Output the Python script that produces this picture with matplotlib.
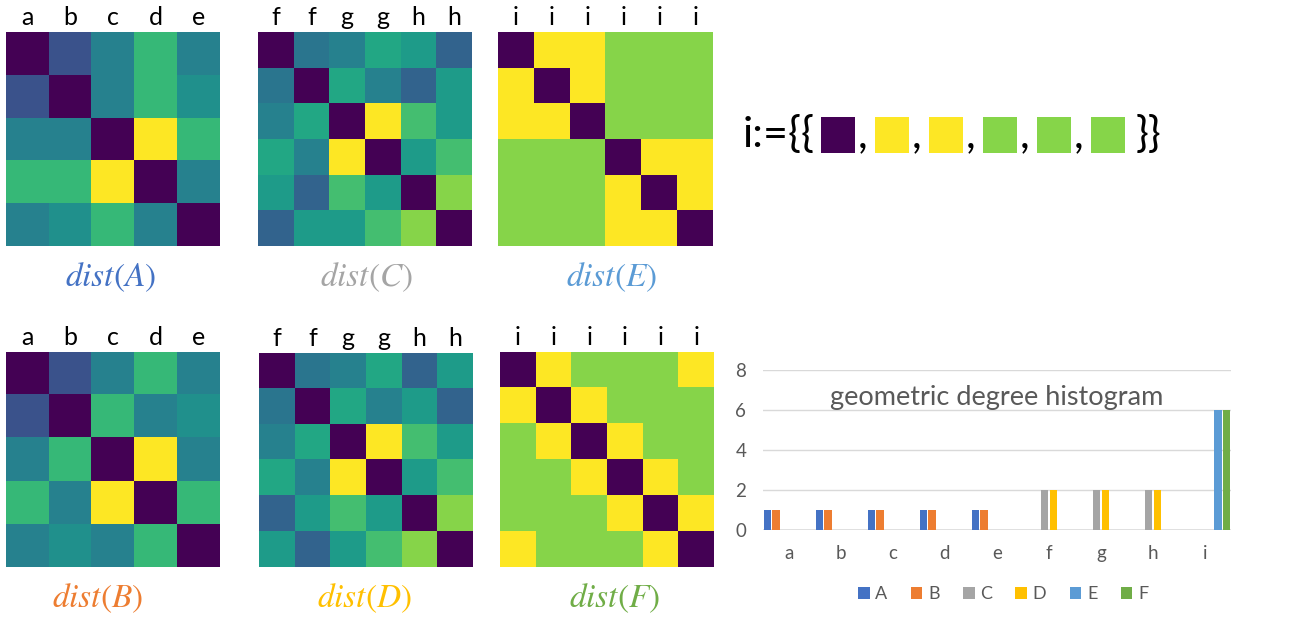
import numpy as np
import matplotlib
matplotlib.use("Agg")
import matplotlib.pyplot as plt
from matplotlib.patches import Rectangle, Patch

plt.rcParams['font.family'] = ['Lato', 'DejaVu Sans']
plt.rcParams['mathtext.fontset'] = 'stix'

# ---------------- data ----------------
labels_AB = ['a', 'b', 'c', 'd', 'e']
labels_CD = ['f', 'f', 'g', 'g', 'h', 'h']
labels_EF = ['i', 'i', 'i', 'i', 'i', 'i']

dist_A = np.array([
    [0.00, 0.25, 0.44, 0.67, 0.44],
    [0.25, 0.00, 0.44, 0.67, 0.50],
    [0.44, 0.44, 0.00, 1.00, 0.67],
    [0.67, 0.67, 1.00, 0.00, 0.44],
    [0.44, 0.50, 0.67, 0.44, 0.00],
])
dist_B = np.array([
    [0.00, 0.25, 0.44, 0.67, 0.44],
    [0.25, 0.00, 0.67, 0.44, 0.50],
    [0.44, 0.67, 0.00, 1.00, 0.44],
    [0.67, 0.44, 1.00, 0.00, 0.67],
    [0.44, 0.50, 0.44, 0.67, 0.00],
])
dist_C = np.array([
    [0.00, 0.39, 0.44, 0.60, 0.55, 0.32],
    [0.39, 0.00, 0.60, 0.44, 0.32, 0.55],
    [0.44, 0.60, 0.00, 1.00, 0.70, 0.55],
    [0.60, 0.44, 1.00, 0.00, 0.55, 0.70],
    [0.55, 0.32, 0.70, 0.55, 0.00, 0.82],
    [0.32, 0.55, 0.55, 0.70, 0.82, 0.00],
])
dist_D = np.array([
    [0.00, 0.39, 0.44, 0.60, 0.32, 0.55],
    [0.39, 0.00, 0.60, 0.44, 0.55, 0.32],
    [0.44, 0.60, 0.00, 1.00, 0.70, 0.55],
    [0.60, 0.44, 1.00, 0.00, 0.55, 0.70],
    [0.32, 0.55, 0.70, 0.55, 0.00, 0.82],
    [0.55, 0.32, 0.55, 0.70, 0.82, 0.00],
])
dist_E = np.array([
    [0.00, 1.00, 1.00, 0.82, 0.82, 0.82],
    [1.00, 0.00, 1.00, 0.82, 0.82, 0.82],
    [1.00, 1.00, 0.00, 0.82, 0.82, 0.82],
    [0.82, 0.82, 0.82, 0.00, 1.00, 1.00],
    [0.82, 0.82, 0.82, 1.00, 0.00, 1.00],
    [0.82, 0.82, 0.82, 1.00, 1.00, 0.00],
])
dist_F = np.array([
    [0.00, 1.00, 0.82, 0.82, 0.82, 1.00],
    [1.00, 0.00, 1.00, 0.82, 0.82, 0.82],
    [0.82, 1.00, 0.00, 1.00, 0.82, 0.82],
    [0.82, 0.82, 1.00, 0.00, 1.00, 0.82],
    [0.82, 0.82, 0.82, 1.00, 0.00, 1.00],
    [1.00, 0.82, 0.82, 0.82, 1.00, 0.00],
])

multiset_i = dist_E[0]   # colours shown in i:={{ ... }}

hist_categories = ['a', 'b', 'c', 'd', 'e', 'f', 'g', 'h', 'i']
series_names = ['A', 'B', 'C', 'D', 'E', 'F']
series_colors = ['#4472c4', '#ed7d31', '#a5a5a5', '#ffc000', '#5b9bd5', '#70ad47']
hist_A = [1, 1, 1, 1, 1, 0, 0, 0, 0]
hist_B = [1, 1, 1, 1, 1, 0, 0, 0, 0]
hist_C = [0, 0, 0, 0, 0, 2, 2, 2, 0]
hist_D = [0, 0, 0, 0, 0, 2, 2, 2, 0]
hist_E = [0, 0, 0, 0, 0, 0, 0, 0, 6]
hist_F = [0, 0, 0, 0, 0, 0, 0, 0, 6]
hist_yticks = [0, 2, 4, 6, 8]

# ---------------- figure ----------------
W, H = 1294, 620
fig = plt.figure(figsize=(W / 100, H / 100), dpi=100)
cmap = plt.get_cmap('viridis')


def px_axes(x0, y0, x1, y1):
    return fig.add_axes([x0 / W, 1 - y1 / H, (x1 - x0) / W, (y1 - y0) / H])


def draw_matrix(box, M, labels, title, color, title_xy):
    ax = px_axes(*box)
    ax.imshow(M, cmap=cmap, vmin=0, vmax=1, aspect='auto', interpolation='nearest')
    ax.xaxis.tick_top()
    ax.set_xticks(range(len(labels)))
    ax.set_xticklabels(labels, fontsize=18, color='black')
    ax.tick_params(axis='x', length=0, pad=2)
    ax.set_yticks([])
    for s in ax.spines.values():
        s.set_visible(False)
    fig.text(title_xy[0] / W, 1 - title_xy[1] / H, title, color=color,
             fontsize=24, ha='center', va='center')


draw_matrix((6, 32, 220, 246), dist_A, labels_AB, r'$dist(A)$', '#4472c4', (111, 277))
draw_matrix((258, 32, 472, 246), dist_C, labels_CD, r'$dist(C)$', '#a5a5a5', (367, 277))
draw_matrix((498, 32, 713, 246), dist_E, labels_EF, r'$dist(E)$', '#5b9bd5', (612, 277))
draw_matrix((6, 352, 220, 567), dist_B, labels_AB, r'$dist(B)$', '#ed7d31', (98, 598))
draw_matrix((259, 353, 473, 567), dist_D, labels_CD, r'$dist(D)$', '#ffc000', (364, 598))
draw_matrix((500, 352, 714, 567), dist_F, labels_EF, r'$dist(F)$', '#70ad47', (615, 598))

# ---- multiset notation ----
base_y = 1 - 147 / H
fig.text(743 / W, base_y, 'i:={{', fontsize=31, va='baseline', ha='left')
for k, v in enumerate(multiset_i):
    x0 = 821 + k * 54
    fig.patches.append(Rectangle((x0 / W, 1 - 153 / H), 34 / W, 36 / H,
                                 transform=fig.transFigure, facecolor=cmap(v),
                                 edgecolor='none'))
    if k < len(multiset_i) - 1:
        fig.text((x0 + 37) / W, base_y, ',', fontsize=31, va='baseline', ha='left')
fig.text(1136 / W, base_y, '}}', fontsize=31, va='baseline', ha='left')

# ---- histogram ----
axh = px_axes(763, 370, 1231, 530)
x = np.arange(len(hist_categories))
bw = 1 / 6
series = [hist_A, hist_B, hist_C, hist_D, hist_E, hist_F]
for k, (vals, name, col) in enumerate(zip(series, series_names, series_colors)):
    axh.bar(x - 0.5 + (k + 0.5) * bw, vals, width=bw * 0.82, color=col,
            linewidth=0, label=name, zorder=3)
axh.set_xlim(-0.5, len(hist_categories) - 0.5)
axh.set_ylim(0, 8)
axh.set_yticks(hist_yticks)
axh.set_xticks(x)
axh.set_xticklabels(hist_categories)
axh.grid(axis='y', color='#d9d9d9', lw=1, zorder=0)
axh.axhline(0, color='#d9d9d9', lw=1.8, zorder=1)
axh.tick_params(axis='both', length=0, labelsize=13.5, colors='#595959')
axh.tick_params(axis='y', pad=12)
axh.tick_params(axis='x', pad=11)
for s in axh.spines.values():
    s.set_visible(False)
axh.text(0.5, 0.825, 'geometric degree histogram', transform=axh.transAxes,
         ha='center', va='center', fontsize=19.5, color='#595959')
handles = [Patch(facecolor=c, edgecolor='none') for c in series_colors]
fig.legend(handles, series_names, loc='center', bbox_to_anchor=(1003 / W, 1 - 594 / H),
           ncol=6, frameon=False, handlelength=0.65, handleheight=0.65,
           handletextpad=0.3, columnspacing=1.3, fontsize=13, labelcolor='#595959')

fig.savefig('out.png', dpi=100)
